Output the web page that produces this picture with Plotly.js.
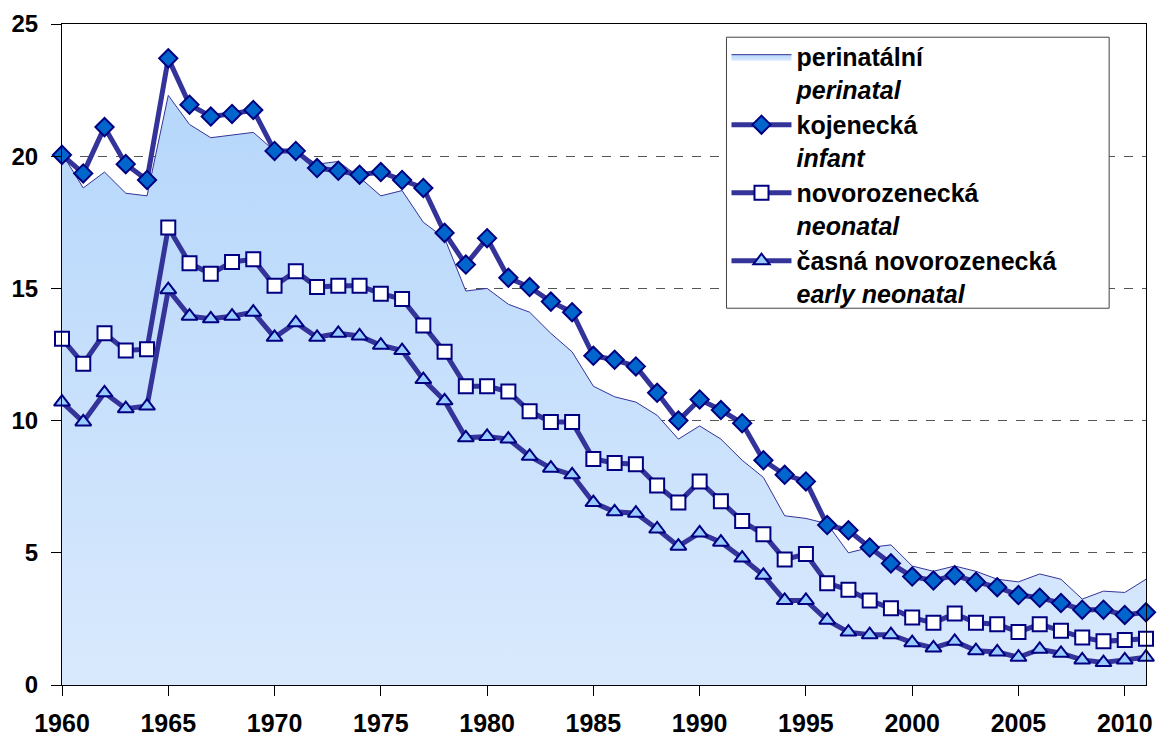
<!DOCTYPE html>
<html>
<head>
<meta charset="utf-8">
<script src="https://cdn.plot.ly/plotly-3.0.1.min.js"></script>
<style>
  html, body { margin: 0; padding: 0; background: #fff; }
  #chart { width: 1158px; height: 738px; }
</style>
</head>
<body>
<div id="chart"></div>
<script>
var years = [];
for (var y = 1960; y <= 2011; y++) years.push(y);

var perinatal = [20.1, 18.8, 19.4, 18.6, 18.5, 22.3, 21.2, 20.7, 20.8, 20.9,
  20.2, 20.2, 19.7, 19.8, 19.2, 18.5, 18.7, 17.5, 16.9, 14.9,
  15.0, 14.4, 14.1, 13.3, 12.6, 11.3, 10.9, 10.7, 10.2, 9.3,
  9.8, 9.3, 8.5, 7.85, 6.4, 6.3, 6.1, 5.0, 5.2, 5.3,
  4.5, 4.3, 4.5, 4.3, 4.0, 3.9, 4.2, 4.0, 3.25, 3.55,
  3.5, 4.0];

var infant = [20.05, 19.35, 21.1, 19.7, 19.1, 23.7, 21.95, 21.5, 21.6, 21.75,
  20.2, 20.2, 19.55, 19.45, 19.3, 19.4, 19.1, 18.8, 17.1, 15.9,
  16.9, 15.4, 15.05, 14.5, 14.1, 12.45, 12.3, 12.05, 11.05, 10.0,
  10.8, 10.4, 9.9, 8.5, 7.95, 7.7, 6.05, 5.85, 5.2, 4.6,
  4.1, 3.95, 4.15, 3.9, 3.7, 3.4, 3.3, 3.1, 2.85, 2.85,
  2.65, 2.75];

var neonatal = [13.1, 12.15, 13.3, 12.65, 12.7, 17.3, 15.95, 15.55, 16.0, 16.1,
  15.1, 15.65, 15.05, 15.1, 15.1, 14.8, 14.6, 13.6, 12.6, 11.3,
  11.3, 11.1, 10.35, 9.95, 9.95, 8.55, 8.4, 8.35, 7.55, 6.9,
  7.7, 6.95, 6.2, 5.7, 4.75, 4.95, 3.85, 3.6, 3.2, 2.9,
  2.55, 2.35, 2.7, 2.35, 2.3, 2.0, 2.3, 2.05, 1.8, 1.65,
  1.7, 1.75];

var earlyNeonatal = [10.7, 9.95, 11.05, 10.45, 10.55, 14.95, 13.95, 13.85, 13.95, 14.1,
  13.15, 13.7, 13.15, 13.3, 13.2, 12.85, 12.65, 11.55, 10.75, 9.35,
  9.4, 9.3, 8.65, 8.2, 7.95, 6.9, 6.55, 6.5, 5.9, 5.25,
  5.75, 5.4, 4.8, 4.15, 3.2, 3.2, 2.45, 2.0, 1.9, 1.9,
  1.6, 1.4, 1.65, 1.3, 1.25, 1.05, 1.35, 1.2, 0.95, 0.85,
  0.95, 1.05];

var names = [
  '<b>perinatální</b><br><b><i>perinatal</i></b>',
  '<b>kojenecká</b><br><b><i>infant</i></b>',
  '<b>novorozenecká</b><br><b><i>neonatal</i></b>',
  '<b>časná novorozenecká</b><br><b><i>early neonatal</i></b>'
];

var xTicks = [1960, 1965, 1970, 1975, 1980, 1985, 1990, 1995, 2000, 2005, 2010];
var yTicks = [0, 5, 10, 15, 20, 25];

var lineColor = '#333399';
var edge = '#000080';

var area = {
  x: years, y: perinatal, name: names[0],
  type: 'scatter', mode: 'lines', fill: 'tozeroy',
  line: {color: lineColor, width: 1},
  fillgradient: {type: 'vertical', colorscale: [[0, '#d9e9fd'], [1, '#b6d7fb']]},
  hoverinfo: 'skip'
};

function series(vals, name, symbol, fill) {
  return {
    x: years, y: vals, name: name,
    type: 'scatter', mode: 'lines+markers', cliponaxis: false,
    line: {color: lineColor, width: 5},
    marker: {symbol: symbol, size: 14, color: fill, line: {color: edge, width: 2}},
    hoverinfo: 'skip'
  };
}

var data = [
  area,
  series(infant, names[1], 'diamond', '#0066cc'),
  series(neonatal, names[2], 'square', '#ffffff'),
  series(earlyNeonatal, names[3], 'triangle-up', '#99ccff')
];

var layout = {
  width: 1158, height: 738,
  margin: {l: 62, r: 12, t: 24, b: 53},
  paper_bgcolor: '#ffffff', plot_bgcolor: '#ffffff',
  font: {family: '"Liberation Sans", Arial, sans-serif', color: '#000'},
  showlegend: true,
  legend: {
    x: 0.613, y: 0.985, xanchor: 'left', yanchor: 'top',
    bgcolor: 'rgba(0,0,0,0)', borderwidth: 0,
    font: {size: 25, weight: 'bold'},
    itemwidth: 60, valign: 'top', tracegroupgap: 0
  },
  // white legend box, wider than the legend text like the original
  shapes: [{
    type: 'rect', xref: 'paper', yref: 'paper', layer: 'above',
    x0: 0.613, x1: 0.966, y0: 0.570, y1: 0.980,
    fillcolor: '#ffffff', line: {color: '#444', width: 1}
  }],
  xaxis: {
    range: [1960, 2011], tickvals: xTicks,
    ticks: 'outside', ticklen: 10, tickcolor: '#000',
    ticklabelstandoff: 6,
    tickfont: {size: 25, weight: 'bold'},
    showgrid: false, zeroline: false,
    showline: true, linecolor: '#000', linewidth: 1, mirror: true
  },
  yaxis: {
    range: [0, 25], tickvals: yTicks,
    ticks: 'outside', ticklen: 10, tickcolor: '#000',
    ticklabelstandoff: 8,
    tickfont: {size: 24, weight: 'bold'},
    showgrid: true, gridcolor: '#555', griddash: 'dash', gridwidth: 1,
    zeroline: false,
    showline: true, linecolor: '#000', linewidth: 1, mirror: true
  }
};

Plotly.newPlot('chart', data, layout, {displayModeBar: false, staticPlot: true});
</script>
</body>
</html>
